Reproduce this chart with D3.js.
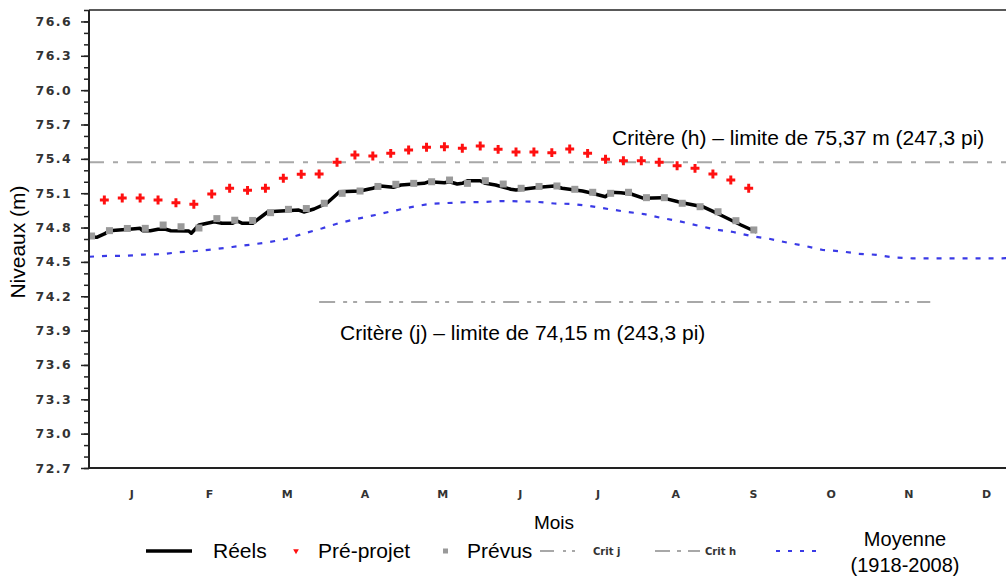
<!DOCTYPE html>
<html>
<head>
<meta charset="utf-8">
<script src="https://cdn.jsdelivr.net/npm/d3@7"></script>
<style>
  html, body { margin: 0; padding: 0; background: #fff; }
  svg { display: block; }
  .lbl { font-family: "Liberation Sans", Arial, sans-serif; fill: #000; }
  .tick-lbl text { font-family: "DejaVu Sans", sans-serif; font-weight: bold; font-size: 12.5px; fill: #333; letter-spacing: 1.4px; }
</style>
</head>
<body>
<script>
// ---- Data -------------------------------------------------------------
const monthLabels = ["J", "F", "M", "A", "M", "J", "J", "A", "S", "O", "N", "D"];
const yTickValues = [72.7, 73.0, 73.3, 73.6, 73.9, 74.2, 74.5, 74.8, 75.1, 75.4, 75.7, 76.0, 76.3, 76.6];

// Observed levels (day of year, level in m)
const realDays = [0, 3, 6, 8, 18, 20, 21, 24, 27, 30, 32, 39, 40, 43, 49, 52, 56, 58, 60, 64, 70, 77, 82, 84, 88, 93, 98, 106, 111, 114, 119, 122, 131, 133, 139, 141, 144, 146, 148, 153, 155, 159, 165, 167, 176, 182, 185, 193, 196, 202, 204, 208, 212, 217, 224, 232, 240, 247, 255, 261];
const realLevels = [74.717, 74.715, 74.744, 74.772, 74.790, 74.793, 74.772, 74.772, 74.785, 74.785, 74.772, 74.770, 74.750, 74.822, 74.851, 74.837, 74.837, 74.857, 74.837, 74.837, 74.938, 74.947, 74.953, 74.936, 74.962, 75.012, 75.113, 75.119, 75.143, 75.163, 75.151, 75.172, 75.186, 75.200, 75.192, 75.200, 75.180, 75.186, 75.209, 75.209, 75.186, 75.172, 75.134, 75.128, 75.151, 75.163, 75.143, 75.119, 75.104, 75.069, 75.108, 75.104, 75.093, 75.055, 75.061, 75.017, 74.982, 74.910, 74.822, 74.761];

// Pre-project levels, weekly from day 6
const preStartDay = 6;
const preLevels = [75.041, 75.058, 75.058, 75.041, 75.017, 75.003, 75.093, 75.143, 75.125, 75.143, 75.230, 75.265, 75.268, 75.370, 75.434, 75.425, 75.448, 75.477, 75.501, 75.506, 75.492, 75.512, 75.483, 75.460, 75.460, 75.454, 75.486, 75.448, 75.396, 75.384, 75.384, 75.370, 75.340, 75.317, 75.268, 75.215, 75.143];

// Forecast levels, weekly from day 1
const fcStartDay = 1;
const fcLevels = [74.726, 74.773, 74.792, 74.793, 74.822, 74.807, 74.796, 74.878, 74.864, 74.862, 74.930, 74.959, 74.966, 75.012, 75.099, 75.119, 75.159, 75.178, 75.186, 75.200, 75.215, 75.186, 75.209, 75.180, 75.143, 75.159, 75.163, 75.134, 75.108, 75.099, 75.108, 75.061, 75.061, 75.012, 74.982, 74.938, 74.860, 74.779];

// Mean 1918-2008, weekly from day 0
const meanLevels = [74.545, 74.552, 74.552, 74.564, 74.567, 74.584, 74.595, 74.611, 74.630, 74.650, 74.671, 74.700, 74.748, 74.792, 74.840, 74.877, 74.910, 74.945, 74.979, 75.006, 75.014, 75.021, 75.023, 75.032, 75.029, 75.025, 75.010, 75.006, 74.988, 74.962, 74.938, 74.918, 74.883, 74.855, 74.818, 74.783, 74.761, 74.726, 74.702, 74.669, 74.639, 74.604, 74.593, 74.571, 74.562, 74.538, 74.531, 74.531, 74.531, 74.531, 74.531, 74.531, 74.538];

// Criteria
const critH = { level: 75.37, from: 0, to: 365, label: "Critère (h) – limite de 75,37 m (247,3 pi)" };
const critJ = { level: 74.15, from: 90, to: 329, label: "Critère (j) – limite de 74,15 m (243,3 pi)" };

// ---- Layout -----------------------------------------------------------
const W = 1006, H = 578;
const plot = { left: 89, top: 10, right: 1006, bottom: 468 };

const svg = d3.select("body").append("svg").attr("width", W).attr("height", H);

const x = d3.scaleLinear().domain([0, 365]).range([plot.left, plot.left + 365 * 2.557]);
const y = d3.scaleLinear().domain([72.7, 76.7]).range([plot.bottom, plot.top]);
const monthBand = d3.scaleBand().domain(d3.range(12)).range([93, 1025.4]);

svg.append("clipPath").attr("id", "plotClip")
  .append("rect").attr("x", plot.left).attr("y", plot.top)
  .attr("width", plot.right - plot.left).attr("height", plot.bottom - plot.top);

const g = svg.append("g").attr("clip-path", "url(#plotClip)");

// Criteria lines
g.append("line")
  .attr("x1", x(critH.from)).attr("x2", x(critH.to))
  .attr("y1", y(critH.level)).attr("y2", y(critH.level))
  .attr("stroke", "#a8a8a8").attr("stroke-width", 2)
  .attr("stroke-dasharray", "15,9,5,9");
g.append("line")
  .attr("x1", x(critJ.from)).attr("x2", x(critJ.to))
  .attr("y1", y(critJ.level)).attr("y2", y(critJ.level))
  .attr("stroke", "#a8a8a8").attr("stroke-width", 2)
  .attr("stroke-dasharray", "16,8,4,6,4,8");

// Mean (dotted blue)
const meanData = meanLevels.map((v, i) => ({ d: i * 7, v }));
g.append("path").datum(meanData)
  .attr("fill", "none").attr("stroke", "#3a3ae6").attr("stroke-width", 2.2)
  .attr("stroke-dasharray", "5,8")
  .attr("d", d3.line().x(p => x(p.d)).y(p => y(p.v)));

// Observed (black line)
const realData = realDays.map((d, i) => ({ d, v: realLevels[i] }));
g.append("path").datum(realData)
  .attr("fill", "none").attr("stroke", "#000").attr("stroke-width", 3.5)
  .attr("stroke-linejoin", "round")
  .attr("d", d3.line().x(p => x(p.d)).y(p => y(p.v)));

// Forecast (grey squares)
const fcData = fcLevels.map((v, i) => ({ d: fcStartDay + i * 7, v }));
g.selectAll("rect.fc").data(fcData).enter().append("rect")
  .attr("class", "fc")
  .attr("x", p => x(p.d) - 3.5).attr("y", p => y(p.v) - 3.5)
  .attr("width", 7).attr("height", 7)
  .attr("fill", "#9a9a9a");

// Pre-project (red markers)
const preData = preLevels.map((v, i) => ({ d: preStartDay + i * 7, v }));
const crossSym = d3.symbol().type(d3.symbolCross).size(44);
g.selectAll("path.pre").data(preData).enter().append("path")
  .attr("class", "pre")
  .attr("transform", p => `translate(${x(p.d)},${y(p.v)})`)
  .attr("d", crossSym)
  .attr("fill", "#ff1010");

// Axes frame
svg.append("line").attr("x1", plot.left).attr("x2", plot.right)
  .attr("y1", plot.top).attr("y2", plot.top)
  .attr("stroke", "#222").attr("stroke-width", 1.5);
svg.append("line").attr("x1", plot.left).attr("x2", plot.right)
  .attr("y1", plot.bottom).attr("y2", plot.bottom)
  .attr("stroke", "#222").attr("stroke-width", 2.2);

// Y axis: minor ticks every 0.1, major every 0.3
const minorTicks = d3.range(72.7, 76.75, 0.1);
const minorAxis = d3.axisLeft(y).tickValues(minorTicks).tickSize(5).tickFormat("");
svg.append("g").attr("transform", `translate(${plot.left},0)`).call(minorAxis)
  .call(s => s.select(".domain").remove())
  .selectAll("line").attr("stroke", "#222").attr("stroke-width", 1.5);

const majorAxis = d3.axisLeft(y).tickValues(yTickValues).tickSize(8).tickPadding(9)
  .tickFormat(d3.format(".1f"));
const ya = svg.append("g").attr("class", "tick-lbl").attr("transform", `translate(${plot.left},0)`).call(majorAxis);
ya.select(".domain").attr("stroke", "#222").attr("stroke-width", 2)
  .attr("d", `M0,${plot.top}V${plot.bottom}`);
ya.selectAll("line").attr("stroke", "#222").attr("stroke-width", 1.5);

// Month labels
svg.append("g").selectAll("text").data(monthLabels).enter().append("text")
  .attr("x", (m, i) => monthBand(i) + monthBand.bandwidth() / 2)
  .attr("y", 498)
  .attr("text-anchor", "middle")
  .style("font-family", "DejaVu Sans, sans-serif")
  .style("font-size", "11px").style("font-weight", "bold")
  .style("fill", "#333")
  .text(m => m);

// Axis titles
svg.append("text").attr("class", "lbl")
  .attr("x", 554).attr("y", 529).attr("text-anchor", "middle")
  .style("font-size", "19px").text("Mois");
svg.append("text").attr("class", "lbl")
  .attr("transform", "translate(25,242) rotate(-90)")
  .attr("text-anchor", "middle")
  .style("font-size", "21px").text("Niveaux (m)");

// Criteria annotations
svg.append("text").attr("class", "lbl")
  .attr("x", 612).attr("y", 145)
  .style("font-size", "21px").text(critH.label);
svg.append("text").attr("class", "lbl")
  .attr("x", 340).attr("y", 340)
  .style("font-size", "21px").text(critJ.label);

// ---- Legend -----------------------------------------------------------
const ly = 551;
const lg = svg.append("g");
lg.append("line").attr("x1", 146).attr("x2", 192).attr("y1", ly).attr("y2", ly)
  .attr("stroke", "#000").attr("stroke-width", 3.5);
lg.append("text").attr("class", "lbl").attr("x", 213).attr("y", ly + 7)
  .style("font-size", "21px").text("Réels");

lg.append("path")
  .attr("d", d3.symbol().type(d3.symbolTriangle).size(14)).attr("fill", "#ff1010")
  .attr("transform", `translate(296,${ly}) rotate(180)`);
lg.append("text").attr("class", "lbl").attr("x", 318).attr("y", ly + 7)
  .style("font-size", "21px").text("Pré-projet");

lg.append("rect").attr("x", 443).attr("y", ly - 2.5).attr("width", 5).attr("height", 5)
  .attr("fill", "#9a9a9a");
lg.append("text").attr("class", "lbl").attr("x", 467).attr("y", ly + 7)
  .style("font-size", "21px").text("Prévus");

lg.append("line").attr("x1", 540).attr("x2", 590).attr("y1", ly).attr("y2", ly)
  .attr("stroke", "#a8a8a8").attr("stroke-width", 2).attr("stroke-dasharray", "14,9,3,6,3,20");
lg.append("text").attr("x", 593).attr("y", ly + 4)
  .style("font-family", "DejaVu Sans, sans-serif").style("font-size", "10px")
  .style("font-weight", "bold").style("fill", "#333").text("Crit j");

lg.append("line").attr("x1", 655).attr("x2", 700).attr("y1", ly).attr("y2", ly)
  .attr("stroke", "#a8a8a8").attr("stroke-width", 2).attr("stroke-dasharray", "15,7,4,7,12");
lg.append("text").attr("x", 705).attr("y", ly + 4)
  .style("font-family", "DejaVu Sans, sans-serif").style("font-size", "10px")
  .style("font-weight", "bold").style("fill", "#333").text("Crit h");

lg.append("line").attr("x1", 776).attr("x2", 822).attr("y1", ly).attr("y2", ly)
  .attr("stroke", "#3a3ae6").attr("stroke-width", 2.2).attr("stroke-dasharray", "4,8");
lg.append("text").attr("class", "lbl").attr("x", 905).attr("y", ly - 5)
  .attr("text-anchor", "middle").style("font-size", "20px").text("Moyenne");
lg.append("text").attr("class", "lbl").attr("x", 905).attr("y", ly + 21)
  .attr("text-anchor", "middle").style("font-size", "20px").text("(1918-2008)");
</script>
</body>
</html>
